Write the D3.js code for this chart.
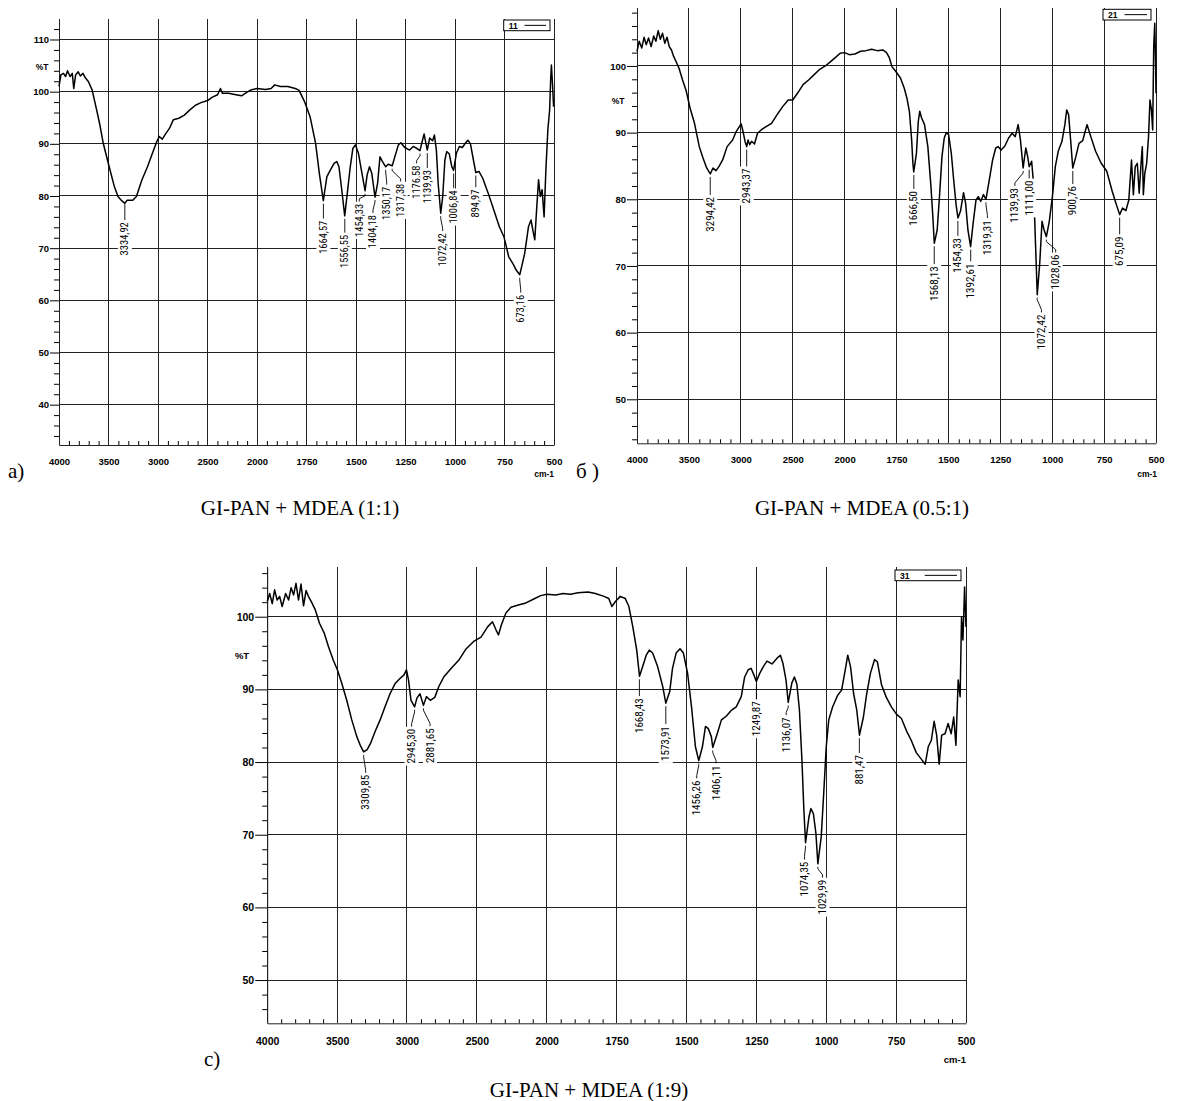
<!DOCTYPE html>
<html>
<head>
<meta charset="utf-8">
<script src="https://cdn.jsdelivr.net/npm/d3@7"></script>
<style>
  body { margin: 0; background: #fff; }
  svg { display: block; }
  .tick text { font-family: "Liberation Sans", Arial, sans-serif; font-weight: bold; fill: #000; }
</style>
</head>
<body>
<svg id="chart" width="1180" height="1101"></svg>
<script>
// ---------- data ----------
const xTicks = [4000, 3500, 3000, 2500, 2000, 1750, 1500, 1250, 1000, 750, 500];
const xMinor = [3900, 3800, 3700, 3600, 3400, 3300, 3200, 3100, 2900, 2800, 2700, 2600,
  2400, 2300, 2200, 2100, 1950, 1900, 1850, 1800, 1700, 1650, 1600, 1550, 1450, 1400,
  1350, 1300, 1200, 1150, 1100, 1050, 950, 900, 850, 800, 700, 650, 600, 550];

// (a) GI-PAN + MDEA (1:1)  [wavenumber, %T]
const spectrumA = [[4000,101.0],[3981,103.2],[3955,103.5],[3933,102.9],[3914,104.0],[3888,102.9],[3866,103.5],[3851,100.6],[3832,103.2],[3806,103.8],[3784,103.0],[3758,103.5],[3732,102.6],[3702,101.9],[3665,100.3],[3620,96.5],[3590,93.9],[3553,90.1],[3497,85.9],[3441,81.8],[3404,79.9],[3367,79.1],[3335,78.6],[3311,79.2],[3255,79.2],[3218,79.9],[3162,83.1],[3106,85.6],[3062,87.9],[3013,90.4],[2987,91.4],[2957,90.9],[2920,92.0],[2883,93.0],[2846,94.6],[2790,94.9],[2734,95.5],[2678,96.5],[2622,97.4],[2566,97.9],[2499,98.3],[2455,98.9],[2399,99.4],[2369,100.6],[2350,99.7],[2287,99.7],[2212,99.4],[2156,99.2],[2108,99.8],[2063,100.3],[2000,100.6],[1957,100.4],[1929,100.6],[1910,101.3],[1882,101.0],[1844,101.0],[1807,100.6],[1788,100.3],[1760,98.1],[1732,95.2],[1704,90.1],[1685,84.3],[1665,79.1],[1657,81.2],[1647,83.7],[1629,85.0],[1610,86.3],[1597,86.6],[1586,85.6],[1572,81.2],[1557,76.2],[1544,80.5],[1529,85.6],[1516,89.1],[1503,89.8],[1488,88.2],[1473,85.0],[1454,81.0],[1444,84.0],[1432,85.6],[1420,84.3],[1409,81.2],[1404,79.8],[1391,82.4],[1379,87.5],[1366,86.6],[1350,85.6],[1338,86.1],[1317,85.8],[1304,87.5],[1286,89.8],[1273,90.2],[1254,89.3],[1229,88.8],[1211,89.5],[1192,89.1],[1177,88.7],[1166,90.4],[1156,91.9],[1147,90.1],[1140,88.8],[1128,91.1],[1113,90.6],[1104,91.7],[1094,88.8],[1085,82.4],[1072,76.7],[1062,79.9],[1051,86.9],[1042,88.5],[1029,88.1],[1016,85.6],[1007,84.9],[993,88.2],[978,89.5],[963,89.3],[948,90.1],[935,90.7],[922,90.0],[907,86.9],[895,84.5],[879,84.7],[860,83.4],[832,80.5],[804,77.3],[776,74.1],[753,72.2],[729,68.4],[704,66.8],[691,65.8],[673,64.9],[663,66.5],[648,69.0],[629,74.1],[616,75.4],[607,73.5],[597,71.6],[588,77.3],[578,83.1],[569,79.9],[560,81.2],[550,76.0],[541,85.0],[531,92.7],[522,96.5],[517,102.2],[513,105.1],[507,101.0],[502,97.1]];
const peaksA = [[3334.92,79.0,"3334,92"],[1664.57,79.1,"1664,57"],[1556.55,76.2,"1556,55"],[1454.33,81.0,"1454,33"],[1404.18,79.8,"1404,18"],[1350.17,85.6,"1350,17"],[1317.38,85.8,"1317,38"],[1176.58,88.7,"1176,58"],[1139.93,88.8,"1139,93"],[1072.42,76.7,"1072,42"],[1006.84,84.9,"1006,84"],[894.97,84.5,"894,97"],[673.16,64.9,"673,16"]];

// (б) GI-PAN + MDEA (0.5:1)
const spectrumB = [[4000,102.2],[3979,103.7],[3954,102.7],[3932,104.3],[3911,103.2],[3889,104.2],[3864,102.9],[3839,104.5],[3818,103.7],[3796,105.3],[3775,104.0],[3754,104.9],[3732,103.4],[3711,104.3],[3689,102.9],[3668,102.4],[3646,101.4],[3625,100.7],[3596,99.7],[3561,97.9],[3525,96.2],[3489,93.7],[3446,91.4],[3400,87.9],[3364,86.2],[3329,84.7],[3294,83.8],[3268,84.7],[3239,84.3],[3211,84.9],[3175,85.9],[3132,87.9],[3079,88.9],[3043,90.2],[3014,90.9],[2996,91.3],[2979,90.2],[2958,88.6],[2943,87.9],[2930,88.9],[2914,88.2],[2896,88.7],[2868,88.3],[2839,89.9],[2804,90.4],[2757,90.9],[2704,91.4],[2650,92.7],[2597,93.9],[2543,94.9],[2500,94.9],[2454,95.9],[2400,97.2],[2347,97.9],[2293,98.7],[2239,99.5],[2186,100.0],[2132,100.7],[2079,101.4],[2043,101.9],[2000,102.0],[1977,101.7],[1950,101.8],[1923,102.2],[1897,102.3],[1870,102.5],[1843,102.3],[1816,102.4],[1798,102.0],[1784,101.2],[1772,99.9],[1754,99.2],[1731,98.2],[1713,96.7],[1700,95.2],[1688,93.2],[1677,88.9],[1671,85.4],[1667,84.1],[1654,86.9],[1645,91.7],[1638,93.2],[1629,92.2],[1615,91.2],[1599,87.9],[1584,81.9],[1574,76.9],[1568,73.4],[1554,75.4],[1543,80.4],[1531,86.4],[1520,89.2],[1510,90.0],[1499,89.7],[1486,86.9],[1474,82.7],[1463,79.2],[1454,77.2],[1442,78.2],[1427,81.0],[1417,79.4],[1406,75.4],[1393,72.9],[1381,76.4],[1367,79.9],[1356,80.4],[1344,79.7],[1331,80.7],[1319,80.0],[1303,82.9],[1287,85.9],[1272,87.7],[1260,87.9],[1246,87.4],[1228,88.0],[1210,89.2],[1193,89.9],[1178,89.4],[1164,91.2],[1153,88.9],[1140,84.7],[1127,87.7],[1118,86.4],[1111,84.9],[1099,85.7],[1090,82.4],[1081,73.9],[1072,65.7],[1060,70.4],[1049,76.7],[1039,75.4],[1028,74.4],[1014,76.7],[999,80.4],[985,84.9],[971,87.2],[953,88.7],[939,91.2],[930,93.4],[921,92.7],[910,88.4],[901,84.7],[886,86.4],[871,88.4],[853,88.8],[841,90.2],[832,91.2],[814,89.4],[791,87.2],[764,85.4],[737,84.2],[711,81.2],[693,79.4],[675,77.7],[661,78.7],[645,78.3],[631,79.9],[618,85.9],[609,80.7],[600,84.9],[590,85.4],[581,80.9],[573,84.9],[566,87.9],[561,80.7],[554,83.9],[545,85.4],[536,89.4],[529,94.9],[522,93.4],[516,90.4],[511,102.9],[506,106.4],[502,100.4],[500,95.9]];
const peaksB = [[3294.42,83.8,"3294,42"],[2943.37,87.9,"2943,37"],[1666.50,84.1,"1666,50"],[1568.13,73.4,"1568,13"],[1454.33,77.2,"1454,33"],[1392.61,72.9,"1392,61"],[1319.31,80.0,"1319,31"],[1139.93,84.7,"1139,93"],[1111.00,84.9,"1111,00"],[1072.42,65.7,"1072,42"],[1028.06,74.4,"1028,06"],[900.76,84.7,"900,76"],[675.09,77.7,"675,09"]];

// (c) GI-PAN + MDEA (1:9)
const spectrumC = [[4000,102.1],[3982,103.2],[3964,101.8],[3947,103.7],[3929,102.3],[3911,102.8],[3893,101.4],[3868,103.2],[3847,102.3],[3829,104.0],[3811,103.0],[3794,104.6],[3776,102.3],[3758,104.5],[3740,101.5],[3722,103.6],[3705,102.8],[3680,101.9],[3655,100.9],[3626,99.1],[3591,97.7],[3562,95.9],[3527,94.0],[3498,92.7],[3466,90.8],[3431,88.5],[3395,85.8],[3359,83.5],[3334,82.3],[3310,81.4],[3285,81.7],[3260,82.6],[3228,84.2],[3192,85.8],[3157,87.6],[3121,89.4],[3085,90.8],[3050,91.5],[3021,92.0],[3004,92.7],[2989,91.3],[2971,88.5],[2945,87.6],[2929,88.8],[2907,89.4],[2882,87.8],[2861,89.0],[2833,88.5],[2801,88.9],[2772,90.4],[2737,91.7],[2683,92.9],[2630,94.0],[2576,95.6],[2523,96.6],[2470,97.2],[2423,98.6],[2388,99.3],[2363,98.2],[2345,97.5],[2324,98.9],[2292,100.5],[2256,101.3],[2203,101.6],[2149,101.9],[2096,102.4],[2043,102.9],[2000,103.1],[1968,103.0],[1941,103.2],[1915,103.1],[1888,103.3],[1852,103.4],[1826,103.2],[1795,102.8],[1778,102.5],[1767,101.4],[1754,102.1],[1737,102.8],[1719,102.5],[1706,101.4],[1692,98.6],[1678,95.4],[1668,91.8],[1657,93.1],[1644,94.7],[1633,95.4],[1621,95.0],[1603,93.1],[1585,90.4],[1574,88.1],[1560,89.7],[1550,92.9],[1537,95.0],[1523,95.6],[1511,95.0],[1496,92.2],[1482,87.6],[1468,82.1],[1456,80.2],[1443,82.1],[1432,84.9],[1422,84.6],[1411,83.5],[1406,82.0],[1390,83.9],[1375,85.8],[1358,86.3],[1340,87.1],[1322,87.6],[1304,89.0],[1292,91.7],[1279,92.7],[1269,92.9],[1260,92.1],[1250,91.1],[1238,92.2],[1224,93.2],[1212,93.9],[1194,93.5],[1176,94.3],[1164,94.7],[1155,93.6],[1144,91.3],[1136,88.2],[1123,90.9],[1114,91.7],[1105,90.7],[1096,87.2],[1087,80.3],[1080,73.4],[1074,68.9],[1062,72.4],[1055,73.6],[1046,72.9],[1037,70.2],[1030,66.0],[1018,69.7],[1009,75.7],[1000,82.1],[991,85.8],[977,87.6],[959,89.2],[945,89.9],[932,92.7],[923,94.7],[913,93.1],[902,89.4],[891,87.2],[881,83.7],[867,86.2],[856,89.2],[842,92.2],[827,94.1],[817,93.8],[802,90.6],[785,88.9],[767,87.6],[749,86.6],[731,86.0],[713,84.3],[696,83.0],[678,81.3],[660,80.4],[646,79.7],[635,82.1],[624,83.0],[614,85.6],[605,83.7],[596,79.7],[587,83.7],[575,83.9],[564,85.3],[553,83.9],[544,86.2],[536,82.3],[528,91.3],[521,89.0],[516,100.0],[511,96.8],[505,104.1],[500,98.6]];
const peaksC = [[3309.85,81.4,"3309,85"],[2945.30,87.6,"2945,30"],[2881.65,87.8,"2881,65"],[1668.43,91.8,"1668,43"],[1573.91,88.1,"1573,91"],[1456.26,80.2,"1456,26"],[1406.11,82.0,"1406,11"],[1249.87,91.1,"1249,87"],[1136.07,88.2,"1136,07"],[1074.35,68.9,"1074,35"],[1029.99,66.0,"1029,99"],[881.47,83.7,"881,47"]];

// ---------- layout ----------
// label offset per peak: [dx px, distance from peak to label top px]
const shiftA = [[0,21],[0,20],[0,19],[-5.8,13],[-2,18],[1,20],[8.5,18],[-3.4,15],[0,20],[2,20],[0,20],[0,17],[1,20]];
const shiftB = [[0,23],[0,22],[0,19],[0,23],[0,20],[0,17],[1.5,21],[-8.3,20],[0,14],[4.3,20],[9.3,18],[0,18],[0,22]];
const shiftC = [[2,23],[-3,22],[6.5,23],[0,22],[0,23],[-2,20],[3.3,18],[0,20],[-2,15],[-1,19],[4.7,16],[0,20]];

const panels = [
  { data: spectrumA, peaks: peaksA, shift: shiftA, legend: "11",
    left: 59, right: 554, top: 19.3, bottom: 445, yDom: [32.27, 113.87],
    yMajor: [40, 50, 60, 70, 80, 90, 100, 110], yMinor: d3.range(34, 113, 2),
    tickFont: 9.5, peakFont: 10.5, majorLen: 9, pad: 13,
    pT: [42, 70], cm: [554, 477], box: [503.7, 20, 46.3, 10.7] },
  { data: spectrumB, peaks: peaksB, shift: shiftB, legend: "21",
    left: 637, right: 1156, top: 8.3, bottom: 443.3, yDom: [43.4, 108.65],
    yMajor: [50, 60, 70, 80, 90, 100], yMinor: d3.range(44, 109, 2),
    tickFont: 9.5, peakFont: 11, majorLen: 10, pad: 13,
    pT: [618, 104], cm: [1157, 477], box: [1103, 9.3, 48, 10.7] },
  { data: spectrumC, peaks: peaksC, shift: shiftC, legend: "31",
    left: 267.2, right: 966, top: 567.3, bottom: 1023.3, yDom: [44.05, 106.8],
    yMajor: [50, 60, 70, 80, 90, 100], yMinor: d3.range(46, 107, 2),
    tickFont: 10.5, peakFont: 11, majorLen: 12, pad: 14.5,
    pT: [242, 659], cm: [966, 1063], box: [895, 570, 66, 10.7] }
];

const svg = d3.select("#chart");
const peakFontFamily = '"Liberation Sans Narrow", "Roboto Condensed", "DejaVu Sans Condensed", sans-serif';

function drawPanel(p) {
  const g = svg.append("g");
  const x = d3.scaleLinear().domain([4000, 2000, 500])
    .range([p.left, p.left + (p.right - p.left) * 0.4, p.right]);
  const y = d3.scaleLinear().domain(p.yDom).range([p.bottom, p.top]);

  // grid
  g.append("g").selectAll("line").data(p.yMajor).join("line")
    .attr("x1", p.left).attr("x2", p.right)
    .attr("y1", d => y(d)).attr("y2", d => y(d))
    .attr("stroke", "#222").attr("stroke-width", 1).attr("shape-rendering", "crispEdges");
  g.append("g").selectAll("line").data(xTicks).join("line")
    .attr("x1", d => x(d)).attr("x2", d => x(d))
    .attr("y1", p.top).attr("y2", p.bottom)
    .attr("stroke", "#222").attr("stroke-width", 1).attr("shape-rendering", "crispEdges");

  // y axis
  const yAx = g.append("g").attr("transform", `translate(${p.left},0)`)
    .call(d3.axisLeft(y).tickValues(p.yMajor).tickSize(p.majorLen).tickSizeOuter(0)
      .tickPadding(1).tickFormat(d3.format("d")));
  yAx.selectAll("text").attr("font-size", p.tickFont);
  g.append("g").attr("transform", `translate(${p.left},0)`)
    .call(d3.axisLeft(y).tickValues(p.yMinor.filter(v => v % 10 !== 0)).tickSize(5)
      .tickSizeOuter(0).tickFormat(""))
    .select(".domain").remove();

  // x axis
  const xAx = g.append("g").attr("transform", `translate(0,${p.bottom})`)
    .call(d3.axisBottom(x).tickValues(xTicks).tickSize(0).tickSizeOuter(0)
      .tickPadding(p.pad).tickFormat(d3.format("d")));
  xAx.selectAll("text").attr("font-size", p.tickFont);
  g.append("g").attr("transform", `translate(0,${p.bottom})`)
    .call(d3.axisTop(x).tickValues(xMinor).tickSize(4).tickSizeOuter(0).tickFormat(""))
    .select(".domain").remove();
  g.selectAll(".domain").attr("stroke", "#222");

  g.append("text").attr("x", p.pT[0]).attr("y", p.pT[1]).attr("text-anchor", "middle")
    .attr("font-family", "Liberation Sans, Arial, sans-serif").attr("font-weight", "bold")
    .attr("font-size", p.tickFont - 1).text("%T");
  g.append("text").attr("x", p.cm[0]).attr("y", p.cm[1]).attr("text-anchor", "end")
    .attr("font-family", "Liberation Sans, Arial, sans-serif").attr("font-weight", "bold")
    .attr("font-size", p.tickFont - 1).text("cm-1");

  // legend box
  const [bx, by, bw, bh] = p.box;
  g.append("rect").attr("x", bx).attr("y", by).attr("width", bw).attr("height", bh)
    .attr("fill", "#fff").attr("stroke", "#000").attr("stroke-width", 1);
  g.append("text").attr("x", bx + 5).attr("y", by + bh - 2.2)
    .attr("font-family", "Liberation Sans, Arial, sans-serif").attr("font-weight", "bold")
    .attr("font-size", 8.5).text(p.legend);
  g.append("line").attr("x1", bx + bw * 0.45).attr("x2", bx + bw - 4)
    .attr("y1", by + bh / 2).attr("y2", by + bh / 2).attr("stroke", "#000");

  // spectrum
  const line = d3.line().x(d => x(d[0])).y(d => y(d[1]));
  g.append("path").datum(p.data).attr("d", line)
    .attr("fill", "none").attr("stroke", "#000").attr("stroke-width", 1.5)
    .attr("stroke-linejoin", "round");

  // peak labels
  p.peaks.forEach((pk, i) => {
    const [wn, val, txt] = pk;
    const [dx, gap] = p.shift[i];
    const px = x(wn), py = y(val);
    const lx = px + dx, top = py + gap;
    const lg = g.append("g");
    const t = lg.append("g").attr("transform", `translate(${lx},${top}) rotate(-90)`);
    const text = t.append("text").attr("text-anchor", "end").attr("dominant-baseline", "central")
      .attr("font-family", peakFontFamily).attr("font-size", p.peakFont).attr("fill", "#000").text(txt);
    const bb = text.node().getBBox();
    t.insert("rect", "text").attr("x", bb.x - 2).attr("y", bb.y - 0.5)
      .attr("width", bb.width + 4).attr("height", bb.height + 1).attr("fill", "#fff");
    const d = Math.abs(dx) < 0.6
      ? `M${px},${py + 3}V${top - 2}`
      : `M${px},${py + 3}V${py + 5}L${lx},${top - 5}V${top - 2}`;
    lg.insert("path", "g").attr("d", d).attr("fill", "none").attr("stroke", "#000").attr("stroke-width", 0.9);
  });
}

panels.forEach(drawPanel);

// captions
const serif = '"Liberation Serif", "Times New Roman", serif';
const caps = [
  { x: 8, y: 478, t: "a)", a: "start" },
  { x: 576, y: 478, t: "б )", a: "start" },
  { x: 204, y: 1066, t: "c)", a: "start" },
  { x: 300, y: 515, t: "GI-PAN + MDEA (1:1)", a: "middle" },
  { x: 862, y: 515, t: "GI-PAN + MDEA (0.5:1)", a: "middle" },
  { x: 589, y: 1097, t: "GI-PAN + MDEA (1:9)", a: "middle" }
];
svg.selectAll("text.cap").data(caps).join("text").attr("class", "cap")
  .attr("x", d => d.x).attr("y", d => d.y).attr("text-anchor", d => d.a)
  .attr("font-family", serif).attr("font-size", 21).text(d => d.t);
</script>
</body>
</html>
